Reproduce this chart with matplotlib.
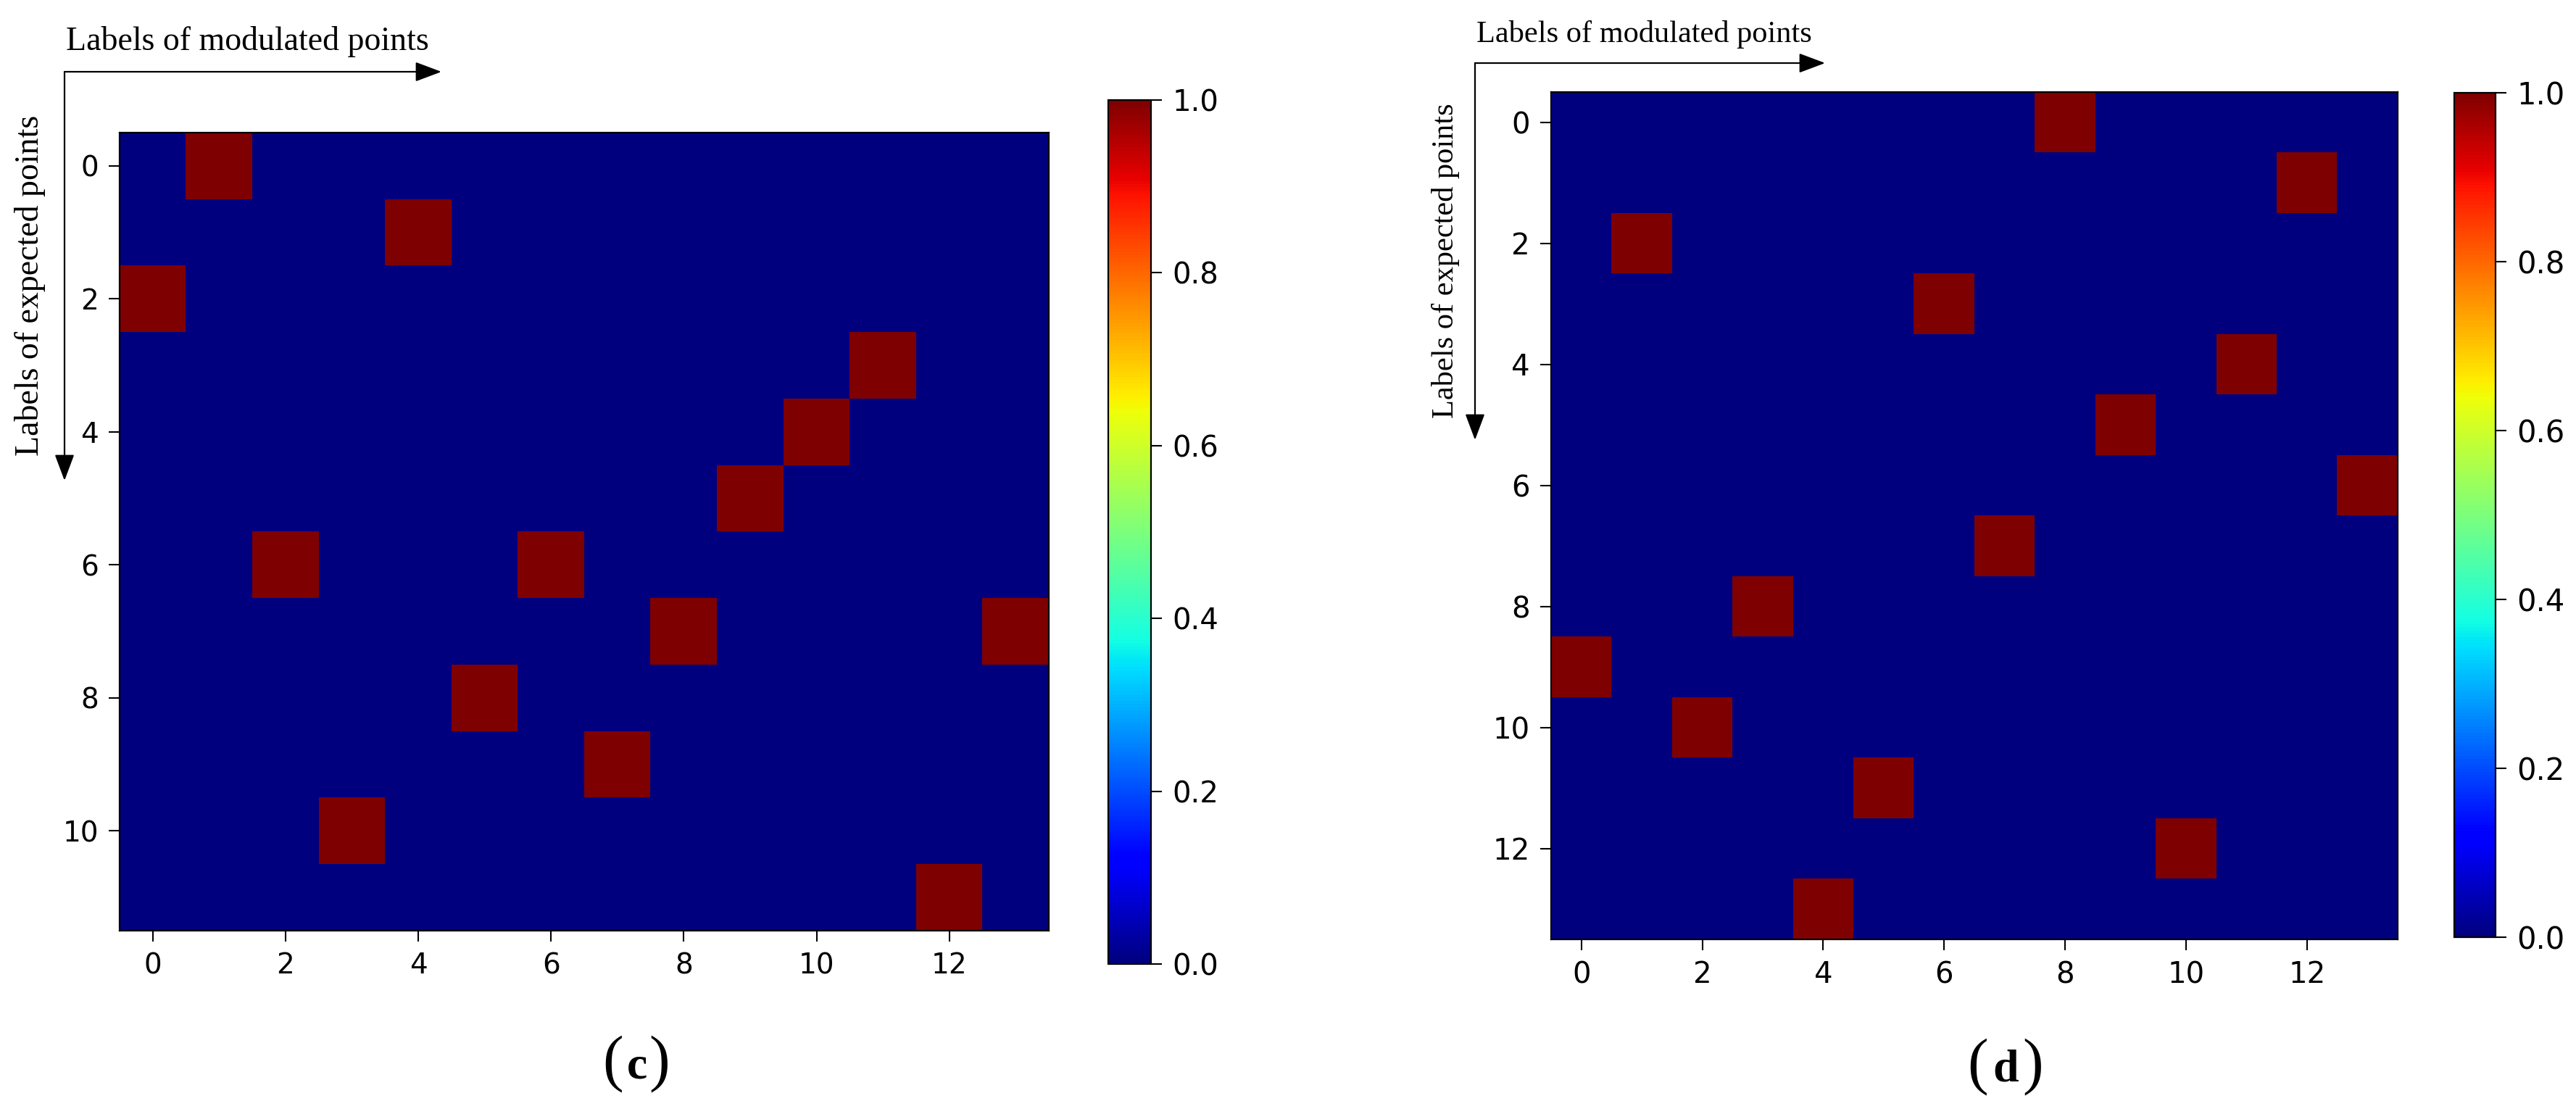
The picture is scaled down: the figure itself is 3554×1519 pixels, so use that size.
import numpy as np
import matplotlib
matplotlib.use("Agg")
import matplotlib.pyplot as plt

# ---- data ----
rows_c = list(range(12))
# column index of the "1" cell(s) in each row of panel (c)
hits_c = [[1], [4], [0], [11], [10], [9], [2, 6], [8, 13], [5], [7], [3], [12]]
n_cols_c = 14

rows_d = list(range(14))
hits_d = [[8], [12], [1], [6], [11], [9], [13], [7], [3], [0], [2], [5], [10], [4]]
n_cols_d = 14

xticks = [0, 2, 4, 6, 8, 10, 12]
yticks_c = [0, 2, 4, 6, 8, 10]
yticks_d = [0, 2, 4, 6, 8, 10, 12]
cbar_ticks = [0.0, 0.2, 0.4, 0.6, 0.8, 1.0]
xlabel_txt = "Labels of modulated points"
ylabel_txt = "Labels of expected points"
panel_letters = ["c", "d"]


def build(rows, hits, ncols):
    m = np.zeros((len(rows), ncols))
    for r, cs in zip(rows, hits):
        for c in cs:
            m[r, c] = 1.0
    return m


mat_c = build(rows_c, hits_c, n_cols_c)
mat_d = build(rows_d, hits_d, n_cols_d)

W, H = 3554, 1519
plt.rcParams["font.family"] = ["DejaVu Sans"]

fig = plt.figure(figsize=(W / 100, H / 100), dpi=100)


def rect(l, t, r, b):
    return [l / W, 1 - b / H, (r - l) / W, (b - t) / H]


def fx(x):
    return x / W


def fy(y):
    return 1 - y / H


def draw_panel(mat, yticks, ax_px, cb_px, tick_fs):
    ax = fig.add_axes(rect(*ax_px))
    im = ax.imshow(mat, cmap="jet", vmin=0, vmax=1, aspect="auto",
                   interpolation="nearest")
    ax.set_xticks(xticks)
    ax.set_yticks(yticks)
    ax.tick_params(labelsize=tick_fs, length=11, width=1.5, pad=10)
    for s in ax.spines.values():
        s.set_linewidth(1.6)
    cax = fig.add_axes(rect(*cb_px))
    cb = fig.colorbar(im, cax=cax, ticks=cbar_ticks)
    cb.ax.set_yticklabels([f"{t:.1f}" for t in cbar_ticks])
    cb.ax.tick_params(labelsize=tick_fs + 1, length=11, width=1.5, pad=10)
    cb.outline.set_linewidth(1.6)
    return ax


draw_panel(mat_c, yticks_c, (165, 183, 1447, 1284), (1529, 138, 1588, 1330), 28)
draw_panel(mat_d, yticks_d, (2140, 127, 3308, 1296), (3386, 128, 3443, 1293), 29)


def arrows(x0, y0, xend, yend, tx, ty, vx, vy, fs):
    for (ex, ey) in [(xend, y0), (x0, yend)]:
        fig.add_artist(matplotlib.patches.FancyArrowPatch(
            (fx(x0), fy(y0)), (fx(ex), fy(ey)), transform=fig.transFigure,
            arrowstyle="-|>,head_length=1.6,head_width=0.6",
            mutation_scale=14, linewidth=1.6, color="black",
            shrinkA=0, shrinkB=0))
    fig.text(fx(tx), fy(ty), xlabel_txt, family="Liberation Serif",
             fontsize=fs, ha="left", va="baseline")
    fig.text(fx(vx), fy(vy), ylabel_txt, family="Liberation Serif",
             fontsize=fs, rotation=90, ha="center", va="center")


arrows(89, 99, 609, 663, 91, 69, 42, 394, 33)
arrows(2035, 87, 2518, 607, 2037, 58, 1994, 360, 30.5)


def panel_label(letter, xl, xc, xr, base):
    kw = dict(family="Liberation Serif", ha="center", va="baseline")
    fig.text(fx(xl), fy(base), "(", fontsize=62, **kw)
    fig.text(fx(xc), fy(base), letter, fontsize=46, fontweight="bold", **kw)
    fig.text(fx(xr), fy(base), ")", fontsize=62, **kw)


panel_label(panel_letters[0], 846, 879, 910, 1488)
panel_label(panel_letters[1], 2729, 2767, 2805, 1492)

fig.savefig("out.png", dpi=100, facecolor="white")
